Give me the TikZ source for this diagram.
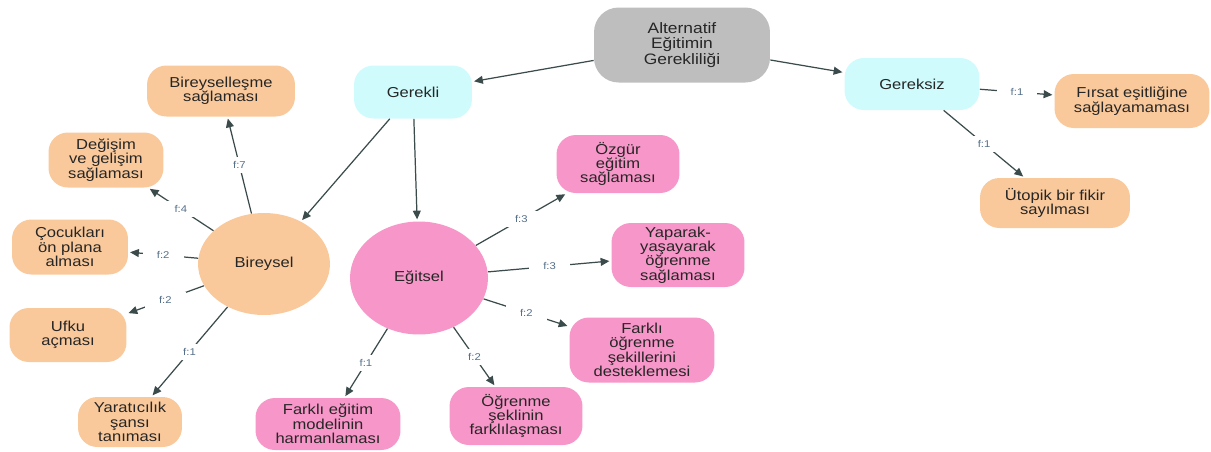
\documentclass[tikz,border=0pt]{standalone}
\usepackage{fontspec}
\setmainfont{Liberation Sans}[FakeStretch=1.15]
\usetikzlibrary{arrows.meta,shapes.geometric}

\definecolor{bireyorange}{HTML}{F9C99B}
\definecolor{egitpink}{HTML}{F796C8}
\definecolor{gerekcyan}{HTML}{CFFBFD}
\definecolor{rootgray}{HTML}{BEBEBE}
\definecolor{linkgray}{HTML}{3B4B4B}
\definecolor{freqblue}{HTML}{56708A}

\begin{document}
\begin{tikzpicture}[x=0.02cm,y=-0.02cm,
    box/.style={rounded corners=11pt, align=center, inner sep=1pt, text=black!85,
      font=\fontsize{8.2}{8.2}\selectfont},
    orangebox/.style={box, fill=bireyorange},
    pinkbox/.style={box, fill=egitpink},
    cyanbox/.style={box, fill=gerekcyan},
    blob/.style={ellipse, inner sep=0pt, text=black!85, font=\fontsize{8.2}{8.2}\selectfont},
    link/.style={draw=linkgray, line width=0.7pt, shorten >=1pt, -{Triangle[length=5pt,width=4.5pt]}},
    freq/.style={fill=white, text=freqblue, inner xsep=8pt, inner ysep=2.5pt,
      font=\fontsize{5.6}{5.6}\selectfont}]
      \useasboundingbox (0,0) rectangle (1211,451);

      % top level
      \node[box, fill=rootgray, rounded corners=14pt, minimum width=3.52cm, minimum height=1.5cm,
        font=\fontsize{8.6}{8.6}\selectfont] (root) at (682,45) {Alternatif\\Eğitimin\\Gerekliliği};
      \node[cyanbox, minimum width=2.36cm, minimum height=1.06cm] (gerekli) at (413,92) {Gerekli};
      \node[cyanbox, minimum width=2.7cm, minimum height=1.04cm] (gereksiz) at (912,84) {Gereksiz};

      \draw[link] (root) -- (gerekli);
      \draw[link] (root) -- (gereksiz);

      % gereksiz
      \node[orangebox, minimum width=3.1cm, minimum height=1.08cm] (firsat) at (1132,101) {Fırsat eşitliğine\\sağlayamaması};
      \node[orangebox, minimum width=3.0cm, minimum height=1.0cm] (utopik) at (1055,203) {Ütopik bir fikir\\sayılması};

      \draw[link] (gereksiz) -- node[freq] {f:1} (firsat);
      \draw[link] (gereksiz) -- node[freq] {f:1} (utopik);

      % gerekli
      \node[blob, fill=bireyorange, minimum width=2.64cm, minimum height=2.04cm] (bireysel) at (264,264) {Bireysel};
      \node[blob, fill=egitpink, minimum width=2.76cm, minimum height=2.26cm] (egitsel) at (419,278) {Eğitsel};

      \draw[link] (gerekli) -- (bireysel);
      \draw[link] (gerekli) -- (egitsel);

      % bireysel
      \node[orangebox, minimum width=2.96cm, minimum height=1.02cm] (bireysellesme) at (221,91) {Bireyselleşme\\sağlaması};
      \node[orangebox, minimum width=2.3cm, minimum height=1.1cm] (degisim) at (106,160) {Değişim\\ve gelişim\\sağlaması};
      \node[orangebox, minimum width=2.32cm, minimum height=1.1cm] (cocuklari) at (70,247) {Çocukları\\ön plana\\alması};
      \node[orangebox, minimum width=2.34cm, minimum height=1.08cm] (ufku) at (68,335) {Ufku\\açması};
      \node[orangebox, minimum width=2.08cm, minimum height=1.0cm] (yaraticilik) at (130,422) {Yaratıcılık\\şansı\\tanıması};

      \draw[link] (bireysel) -- node[freq] {f:7} (bireysellesme);
      \draw[link] (bireysel) -- node[freq] {f:4} (degisim);
      \draw[link] (bireysel) -- node[freq] {f:2} (cocuklari);
      \draw[link] (bireysel) -- node[freq] {f:2} (ufku);
      \draw[link] (bireysel) -- node[freq] {f:1} (yaraticilik);

      % egitsel
      \node[pinkbox, minimum width=2.46cm, minimum height=1.16cm] (ozgur) at (618,164) {Özgür\\eğitim\\sağlaması};
      \node[pinkbox, minimum width=2.66cm, minimum height=1.28cm] (yaparak) at (678,255) {Yaparak-\\yaşayarak\\öğrenme\\sağlaması};
      \node[pinkbox, minimum width=2.9cm, minimum height=1.3cm] (farkliogrenme) at (642,350) {Farklı\\öğrenme\\şekillerini\\desteklemesi};
      \node[pinkbox, minimum width=2.66cm, minimum height=1.16cm] (ogrenmesekli) at (516,416) {Öğrenme\\şeklinin\\farklılaşması};
      \node[pinkbox, minimum width=2.9cm, minimum height=1.04cm] (farkliegitim) at (328,424) {Farklı eğitim\\modelinin\\harmanlaması};

      \draw[link] (egitsel) -- node[freq] {f:3} (ozgur);
      \draw[link] (egitsel) -- node[freq] {f:3} (yaparak);
      \draw[link] (egitsel) -- node[freq] {f:2} (farkliogrenme);
      \draw[link] (egitsel) -- node[freq] {f:2} (ogrenmesekli);
      \draw[link] (egitsel) -- node[freq] {f:1} (farkliegitim);
\end{tikzpicture}
\end{document}
